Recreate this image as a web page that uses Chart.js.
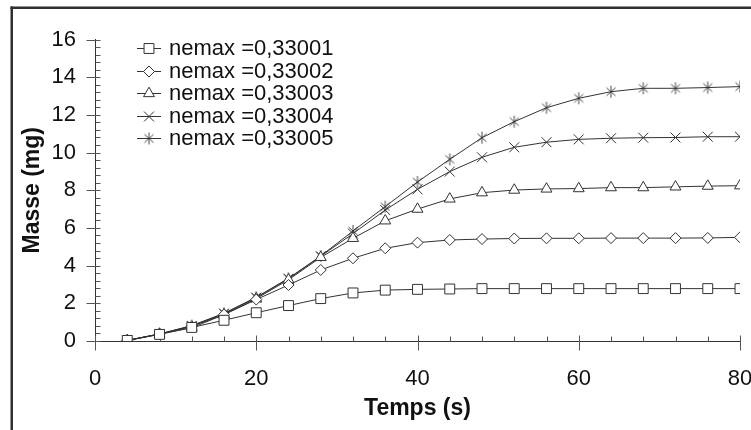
<!DOCTYPE html>
<html>
<head>
<meta charset="utf-8">
<script src="https://cdn.jsdelivr.net/npm/chart.js"></script>
<style>
  html, body { margin: 0; padding: 0; background: #fff; }
  canvas { display: block; }
</style>
</head>
<body>
<canvas id="chart" width="751" height="430"></canvas>
<script>
// Time (s) of each sample
const TIMES = [4, 8, 12, 16, 20, 24, 28, 32, 36, 40, 44, 48, 52, 56, 60, 64, 68, 72, 76, 80];

// Mass (mg) for each nemax value
const NEMAX_33001 = [0.03, 0.35, 0.72, 1.10, 1.50, 1.88, 2.25, 2.55, 2.70, 2.74, 2.76, 2.78, 2.78, 2.78, 2.78, 2.78, 2.78, 2.78, 2.78, 2.78];
const NEMAX_33002 = [0.03, 0.37, 0.78, 1.40, 2.20, 2.97, 3.77, 4.39, 4.92, 5.22, 5.36, 5.41, 5.44, 5.45, 5.45, 5.46, 5.46, 5.46, 5.47, 5.50];
const NEMAX_33003 = [0.03, 0.37, 0.70, 1.40, 2.25, 3.25, 4.44, 5.45, 6.38, 7.00, 7.54, 7.87, 8.01, 8.07, 8.09, 8.14, 8.14, 8.18, 8.22, 8.24];
const NEMAX_33004 = [0.03, 0.37, 0.80, 1.45, 2.30, 3.30, 4.50, 5.70, 6.95, 8.05, 8.99, 9.75, 10.28, 10.55, 10.70, 10.76, 10.79, 10.80, 10.84, 10.84];
const NEMAX_33005 = [0.03, 0.37, 0.82, 1.47, 2.32, 3.33, 4.51, 5.84, 7.13, 8.44, 9.64, 10.79, 11.64, 12.38, 12.88, 13.23, 13.41, 13.41, 13.45, 13.50];

const SERIES_LABELS = ['nemax =0,33001', 'nemax =0,33002', 'nemax =0,33003', 'nemax =0,33004', 'nemax =0,33005'];
const X_TICKS = [0, 20, 40, 60, 80];
const Y_TICKS = [0, 2, 4, 6, 8, 10, 12, 14, 16];

const FONT = "'Liberation Sans', Arial, Helvetica, sans-serif";
const INK = '#333333';

Chart.defaults.font.family = FONT;

// Six-armed asterisk marker
function makeAsterisk() {
  const c = document.createElement('canvas');
  c.width = 14; c.height = 14;
  const g = c.getContext('2d');
  g.strokeStyle = '#333';
  g.lineWidth = 0.9;
  g.beginPath();
  g.moveTo(7, 1); g.lineTo(7, 13);
  g.moveTo(2.5, 3); g.lineTo(11.5, 11);
  g.moveTo(11.5, 3); g.lineTo(2.5, 11);
  g.stroke();
  return c;
}
const ASTERISK = makeAsterisk();

function toPoints(values) {
  return values.map((v, i) => ({ x: TIMES[i], y: v }));
}

const MARKERS = [
  { style: 'rect', radius: 7 },
  { style: 'rectRot', radius: 5.5 },
  { style: 'triangle', radius: 6.3 },
  { style: 'crossRot', radius: 7 },
  { style: ASTERISK, radius: 7 }
];
const SERIES = [NEMAX_33001, NEMAX_33002, NEMAX_33003, NEMAX_33004, NEMAX_33005];

const datasets = SERIES.map((values, i) => ({
  label: SERIES_LABELS[i],
  data: toPoints(values),
  showLine: true,
  tension: 0,
  borderColor: INK,
  borderWidth: 1,
  pointStyle: MARKERS[i].style,
  pointRadius: MARKERS[i].radius,
  pointHoverRadius: MARKERS[i].radius,
  pointBackgroundColor: '#ffffff',
  pointBorderColor: INK,
  pointBorderWidth: 1
}));

// White page with the dark frame on the left and top edges
const framePlugin = {
  id: 'frame',
  beforeDraw(chart) {
    const ctx = chart.ctx;
    ctx.save();
    ctx.fillStyle = '#ffffff';
    ctx.fillRect(0, 0, chart.width, chart.height);
    ctx.fillStyle = '#2f2f2f';
    ctx.fillRect(10.5, 6.5, 2.5, chart.height);
    ctx.fillRect(10.5, 6.5, chart.width, 2.5);
    ctx.restore();
  }
};

// Major and minor tick marks along both axes
const tickMarksPlugin = {
  id: 'tickMarks',
  beforeDatasetsDraw(chart) {
    const { ctx, scales: { x, y } } = chart;
    const axisX = Math.round(x.left) + 0.5;
    const axisY = Math.round(y.bottom) + 0.5;
    ctx.save();
    ctx.strokeStyle = '#555';
    ctx.lineWidth = 1;
    ctx.beginPath();
    // y axis: minor every 0.4, major every 2
    for (let k = 0; k <= 40; k++) {
      const v = k * 0.4;
      const py = Math.round(y.getPixelForValue(v)) + 0.5;
      if (k % 5 === 0) {
        ctx.moveTo(axisX - 9, py); ctx.lineTo(axisX + 5, py);
      } else {
        ctx.moveTo(axisX, py); ctx.lineTo(axisX + 5, py);
      }
    }
    // x axis: minor every 4, major every 20
    for (let k = 0; k <= 20; k++) {
      const v = k * 4;
      const px = Math.round(x.getPixelForValue(v)) + 0.5;
      if (k % 5 === 0) {
        ctx.moveTo(px, axisY - 6); ctx.lineTo(px, axisY + 9);
      } else {
        ctx.moveTo(px, axisY - 5); ctx.lineTo(px, axisY);
      }
    }
    ctx.stroke();
    ctx.restore();
  }
};

// Legend inside the plot, top left
const insideLegendPlugin = {
  id: 'insideLegend',
  afterDraw(chart) {
    const ctx = chart.ctx;
    ctx.save();
    chart.data.datasets.forEach((ds, i) => {
      const yy = 48 + i * 22.5;
      ctx.strokeStyle = ds.borderColor;
      ctx.lineWidth = 1;
      ctx.beginPath();
      ctx.moveTo(137, Math.round(yy) + 0.5);
      ctx.lineTo(161, Math.round(yy) + 0.5);
      ctx.stroke();
      ctx.fillStyle = '#ffffff';
      ctx.strokeStyle = ds.pointBorderColor;
      Chart.helpers.drawPoint(ctx, {
        pointStyle: ds.pointStyle,
        radius: ds.pointRadius,
        borderWidth: 1,
        rotation: 0
      }, 149, Math.round(yy) + 0.5);
      ctx.fillStyle = '#111';
      ctx.font = '22px ' + FONT;
      ctx.textBaseline = 'middle';
      ctx.textAlign = 'left';
      ctx.fillText(ds.label, 169, yy + 1);
    });
    ctx.restore();
  }
};

new Chart(document.getElementById('chart'), {
  type: 'scatter',
  data: { datasets },
  options: {
    responsive: false,
    animation: false,
    devicePixelRatio: 1,
    layout: { padding: { left: 0, right: 11, top: 39.5, bottom: 0 } },
    plugins: {
      legend: { display: false },
      tooltip: { enabled: false }
    },
    scales: {
      x: {
        type: 'linear',
        min: 0,
        max: 80,
        afterBuildTicks(scale) { scale.ticks = X_TICKS.map(v => ({ value: v })); },
        ticks: { color: '#111', font: { size: 22 }, padding: 25 },
        grid: { display: false, drawTicks: false },
        border: { display: true, color: INK, width: 1 },
        title: {
          display: true, text: 'Temps (s)', color: '#111',
          font: { size: 23, weight: 'bold' }, padding: { top: 0, bottom: 8 }
        },
        afterFit(scale) { scale.height = 89; scale.paddingLeft = 0; scale.paddingRight = 0; }
      },
      y: {
        type: 'linear',
        min: 0,
        max: 16,
        afterBuildTicks(scale) { scale.ticks = Y_TICKS.map(v => ({ value: v })); },
        ticks: { color: '#111', font: { size: 22 }, padding: 19 },
        grid: { display: false, drawTicks: false },
        border: { display: true, color: INK, width: 1 },
        title: {
          display: true, text: 'Masse (mg)', color: '#111',
          font: { size: 23, weight: 'bold' }, padding: { top: 19, bottom: 0 }
        },
        afterFit(scale) { scale.width = 95; scale.paddingTop = 0; scale.paddingBottom = 0; }
      }
    }
  },
  plugins: [framePlugin, tickMarksPlugin, insideLegendPlugin]
});
</script>
</body>
</html>
